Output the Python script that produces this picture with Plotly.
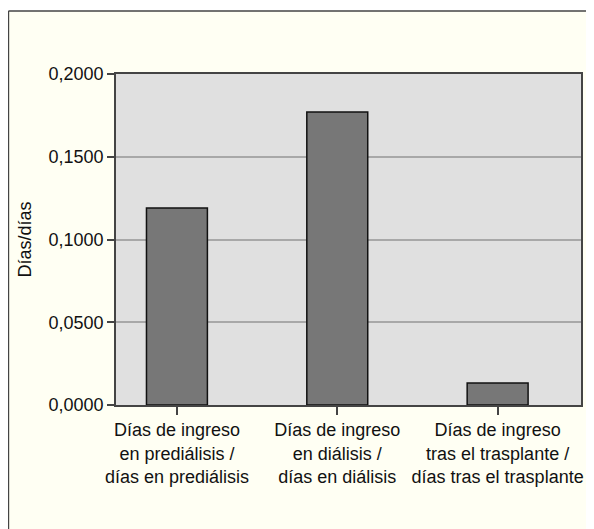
import plotly.graph_objects as go

categories = [
    "Días de ingreso<br>en prediálisis /<br>días en prediálisis",
    "Días de ingreso<br>en diálisis /<br>días en diálisis",
    "Días de ingreso<br>tras el trasplante /<br>días tras el trasplante",
]
values = [0.119, 0.177, 0.0133]
y_ticks = [0.0, 0.05, 0.10, 0.15, 0.20]
y_tick_labels = ["0,0000", "0,0500", "0,1000", "0,1500", "0,2000"]

font_family = "Liberation Sans, Arial, Helvetica, sans-serif"

fig = go.Figure(
    go.Bar(
        x=list(range(len(categories))),
        y=values,
        width=0.38,
        marker=dict(color="#777777", line=dict(color="#111111", width=1.5)),
    )
)

fig.update_layout(
    width=586,
    height=521,
    margin=dict(l=108, r=11, t=66, b=124),
    paper_bgcolor="#FFFFF3",
    plot_bgcolor="#E0E0E0",
    showlegend=False,
    font=dict(family=font_family, size=18, color="#111111"),
    shapes=[
        dict(type="rect", xref="paper", yref="paper", x0=-0.3, x1=1.1,
             y0=1.19, y1=1.25, fillcolor="#FFFFFF", line=dict(width=0)),
        dict(type="line", xref="paper", yref="paper", x0=-0.2313, x1=1.1,
             y0=1.19, y1=1.19, line=dict(color="#444444", width=1.5)),
        dict(type="line", xref="paper", yref="paper", x0=-0.2313, x1=-0.2313,
             y0=1.19, y1=-0.5, line=dict(color="#444444", width=1.5)),
    ],
)

fig.update_xaxes(
    range=[-0.38, 2.52],
    tickmode="array",
    tickvals=list(range(len(categories))),
    ticktext=categories,
    ticks="outside",
    ticklen=8,
    tickwidth=1.5,
    tickcolor="#444444",
    showline=True,
    linecolor="#444444",
    linewidth=1.5,
    mirror=True,
    showgrid=False,
    zeroline=False,
    tickfont=dict(size=18),
)

fig.update_yaxes(
    range=[0, 0.2],
    tickmode="array",
    tickvals=y_ticks,
    ticktext=y_tick_labels,
    ticks="outside",
    ticklen=7,
    tickwidth=1.5,
    tickcolor="#444444",
    showline=True,
    linecolor="#444444",
    linewidth=1.5,
    mirror=True,
    showgrid=True,
    gridcolor="#A8A8A8",
    gridwidth=1.5,
    zeroline=False,
    tickfont=dict(size=18),
    title=dict(text="Días/días", font=dict(size=18), standoff=12),
)

fig.write_html("out.html")
